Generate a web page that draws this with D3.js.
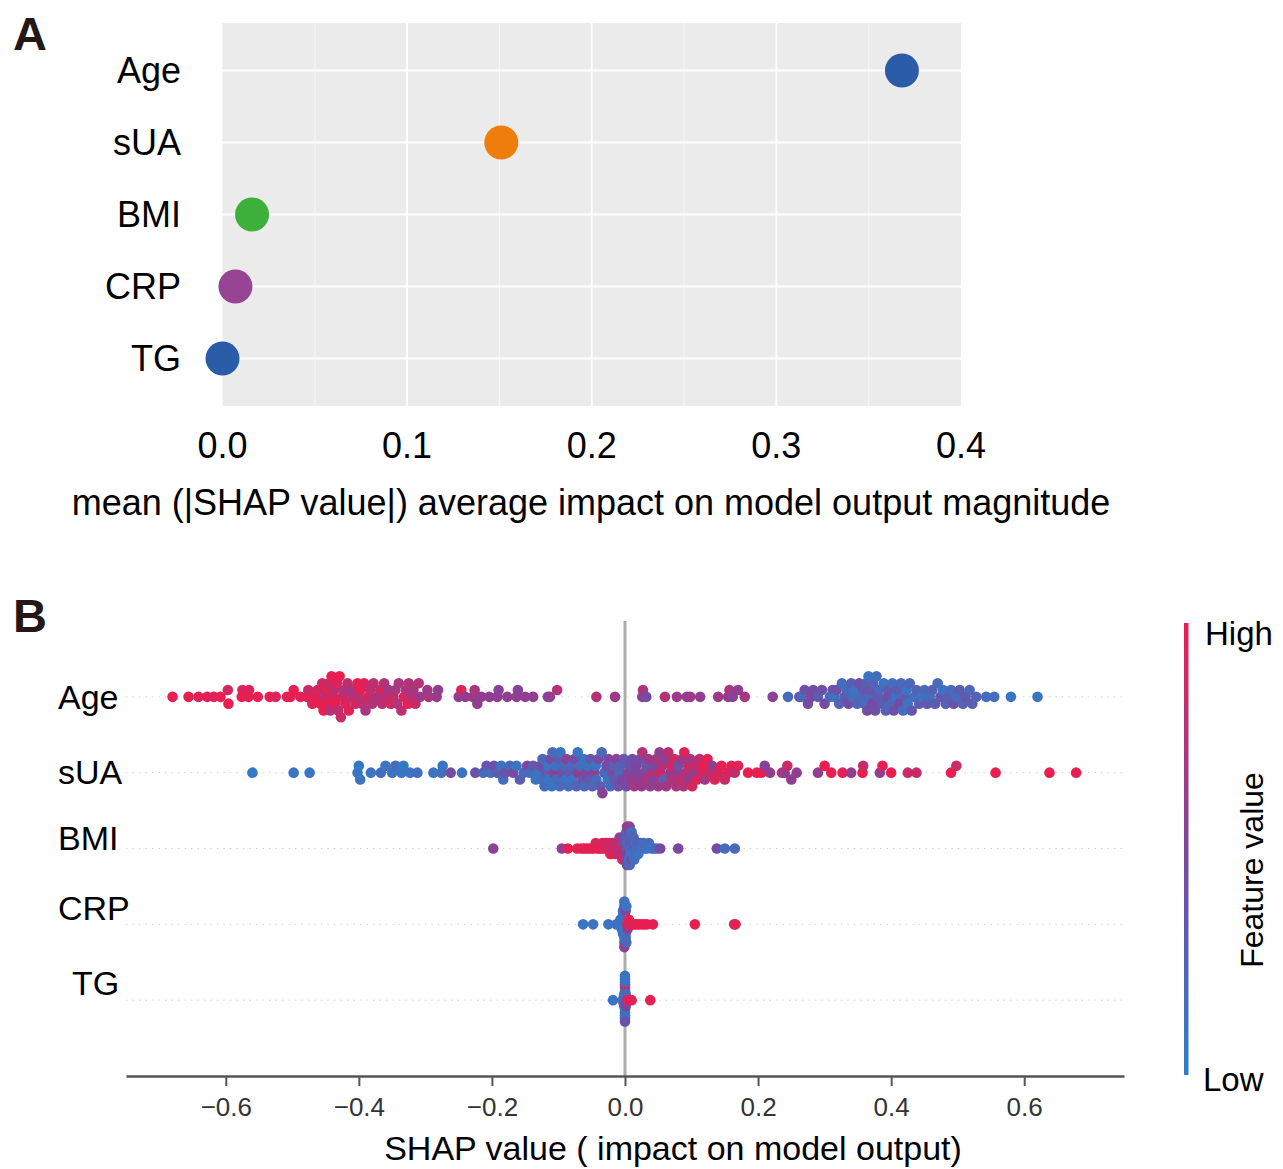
<!DOCTYPE html>
<html>
<head>
<meta charset="utf-8">
<script src="https://cdn.jsdelivr.net/npm/d3@7"></script>
<style>
  body { margin: 0; background: #fff; }
  svg text { font-family: "Liberation Sans", Arial, Helvetica, sans-serif; }
</style>
</head>
<body>
<div id="figure"></div>
<script>
// features, top to bottom (same order in both panels)
const features = ["Age", "sUA", "BMI", "CRP", "TG"];

// panel A: mean(|SHAP value|) per feature
const meanAbsShap = [0.368, 0.151, 0.016, 0.007, 0.000];
const meanColors = ["#2b5ca8", "#ee7d0b", "#3cb03b", "#984494", "#2b5ca8"];
const importanceTicks = [0, 0.1, 0.2, 0.3, 0.4];

// panel B: ticks of the SHAP axis
const summaryTicks = [-0.6, -0.4, -0.2, 0, 0.2, 0.4, 0.6];

// panel B: one entry per sample -> [shap value, feature value scaled 0 (low) .. 1 (high)]
const ageDots = [
  [-0.680,1],[-0.656,1],[-0.641,.95],[-0.628,1],[-0.618,.95],[-0.608,1],[-0.597,.9],[-0.596,1],
  [-0.576,1],[-0.575,.95],[-0.566,1],[-0.565,.95],[-0.552,1],[-0.534,1],[-0.525,.95],[-0.508,.95],
  [-0.503,1],[-0.498,1],[-0.488,.95],[-0.478,1],[-0.476,.85],[-0.470,.95],[-0.465,1],[-0.462,.9],
  [-0.458,1],[-0.455,.9],[-0.453,1],[-0.451,.8],[-0.449,.95],[-0.447,1],[-0.445,.85],[-0.443,.75],
  [-0.441,1],[-0.439,.9],[-0.437,.8],[-0.435,1],[-0.433,.95],[-0.431,.8],[-0.429,1],[-0.427,.85],
  [-0.425,.9],[-0.423,.75],[-0.420,.95],[-0.417,.8],[-0.415,.95],[-0.413,.8],[-0.409,.7],[-0.405,.9],
  [-0.402,1],[-0.400,.75],[-0.398,1],[-0.395,.8],[-0.392,.95],[-0.390,.7],[-0.386,.9],[-0.383,.8],
  [-0.380,.75],[-0.378,.8],[-0.372,.7],[-0.368,.9],[-0.365,.8],[-0.362,.75],[-0.358,.8],[-0.355,.7],
  [-0.352,.9],[-0.348,.85],[-0.345,.7],[-0.342,.75],[-0.340,.7],[-0.336,.8],[-0.332,.9],[-0.329,.75],
  [-0.326,1],[-0.325,.75],[-0.322,.8],[-0.318,.7],[-0.315,.85],[-0.310,.75],[-0.308,.65],
  [-0.297,.65],[-0.295,.7],[-0.283,.65],[-0.281,.6],[-0.250,.6],[-0.246,.95],[-0.240,.6],[-0.229,.65],
  [-0.226,.7],[-0.222,.6],[-0.216,.6],[-0.204,.6],[-0.192,.6],[-0.190,.55],[-0.177,.6],[-0.163,.6],
  [-0.161,.55],[-0.150,.6],[-0.138,.6],[-0.116,.55],[-0.113,.6],[-0.102,.75],[-0.043,.75],[-0.015,.65],
  [0.026,.55],[0.027,.75],[0.032,.45],[0.060,.75],[0.078,.65],[0.093,.6],[0.098,.65],[0.113,.6],
  [0.140,.65],[0.155,.65],[0.157,.7],[0.162,.55],[0.170,.6],[0.180,.7],[0.222,.55],[0.245,.15],
  [0.262,.45],[0.265,.2],[0.270,.4],[0.275,.45],[0.280,.5],[0.283,.45],[0.290,.3],[0.296,.4],
  [0.300,.45],[0.308,.2],[0.312,.35],[0.315,.1],[0.318,.4],[0.322,.25],[0.326,.15],[0.330,.3],
  [0.333,.2],[0.336,.45],[0.340,.3],[0.342,.15],[0.345,.1],[0.349,.25],[0.352,.4],[0.356,.2],
  [0.358,.35],[0.360,.15],[0.362,.3],[0.364,.45],[0.366,.1],[0.368,.2],[0.370,.35],[0.372,.5],
  [0.373,.25],[0.376,.4],[0.378,.15],[0.380,.3],[0.382,.2],[0.386,.3],[0.389,.1],[0.392,.25],
  [0.394,.4],[0.396,.35],[0.400,.2],[0.402,.15],[0.404,.4],[0.407,.1],[0.410,.3],[0.412,.45],
  [0.415,.2],[0.418,.15],[0.421,.3],[0.423,.1],[0.425,.1],[0.428,.2],[0.431,.35],[0.435,.15],
  [0.438,.25],[0.442,.3],[0.446,.1],[0.450,.2],[0.454,.35],[0.458,.15],[0.462,.25],[0.466,.3],
  [0.470,.2],[0.474,.35],[0.478,.1],[0.482,.25],[0.486,.3],[0.490,.2],[0.494,.4],[0.498,.15],
  [0.503,.3],[0.508,.25],[0.512,.35],[0.518,.2],[0.522,.3],[0.528,.25],[0.543,.15],[0.555,.15],
  [0.580,.1],[0.620,.1]
];

const suaDots = [
  [-0.560,.05],[-0.498,.1],[-0.474,.1],[-0.402,.1],[-0.400,.05],[-0.398,.1],[-0.382,.1],[-0.367,.15],
  [-0.360,.1],[-0.350,.1],[-0.345,.15],[-0.336,.1],[-0.333,.05],[-0.323,.1],[-0.312,.15],[-0.288,.1],
  [-0.276,.15],[-0.274,.1],[-0.262,.45],[-0.245,.1],[-0.225,.4],[-0.213,.2],[-0.208,.35],[-0.202,.15],
  [-0.197,.4],[-0.192,.3],[-0.186,.1],[-0.183,.15],[-0.180,.4],[-0.173,.2],[-0.168,.45],[-0.163,.1],
  [-0.158,.3],[-0.152,.2],[-0.147,.5],[-0.143,.15],[-0.138,.35],[-0.134,.1],[-0.130,.1],[-0.127,.4],
  [-0.125,.15],[-0.124,.2],[-0.121,.15],[-0.118,.35],[-0.116,.1],[-0.115,.1],[-0.112,.45],[-0.110,.1],
  [-0.109,.2],[-0.106,.6],[-0.104,.1],[-0.103,.15],[-0.100,.3],[-0.098,.2],[-0.097,.1],[-0.094,.4],
  [-0.091,.2],[-0.089,.1],[-0.088,.55],[-0.085,.15],[-0.082,.35],[-0.080,.2],[-0.079,.1],[-0.076,.45],
  [-0.073,.25],[-0.071,.1],[-0.070,.6],[-0.067,.15],[-0.064,.4],[-0.062,.1],[-0.061,.2],[-0.058,.5],
  [-0.055,.1],[-0.053,.3],[-0.052,.35],[-0.049,.25],[-0.046,.6],[-0.044,.1],[-0.043,.15],[-0.040,.45],
  [-0.037,.3],[-0.035,.2],[-0.034,.55],[-0.031,.2],[-0.028,.4],[-0.026,.1],[-0.025,.5],[-0.022,.15],
  [-0.019,.45],[-0.017,.3],[-0.016,.35],[-0.013,.55],[-0.010,.4],[-0.008,.2],[-0.007,.25],[-0.004,.5],
  [-0.002,.35],[0.002,.45],[0.005,.55],[0.007,.4],[0.008,.6],[0.011,.4],[0.014,.7],[0.016,.5],
  [0.017,.5],[0.020,.6],[0.023,.45],[0.025,.65],[0.026,.75],[0.029,.55],[0.032,.35],[0.034,.7],
  [0.035,.65],[0.038,.6],[0.041,.8],[0.043,.5],[0.044,.55],[0.047,.7],[0.050,.65],[0.052,.6],
  [0.053,.85],[0.056,.75],[0.059,.3],[0.061,.55],[0.062,.7],[0.065,.8],[0.068,.6],[0.070,.9],
  [0.071,.75],[0.074,.9],[0.077,.7],[0.079,.6],[0.080,.4],[0.083,.8],[0.086,.65],[0.088,.75],
  [0.089,.95],[0.092,.75],[0.095,.85],[0.097,.6],[0.098,.7],[0.101,.9],[0.104,.6],[0.106,.8],
  [0.108,.95],[0.112,.8],[0.116,.9],[0.118,1],[0.120,.7],[0.124,1],[0.128,.85],[0.131,.6],
  [0.135,.95],[0.140,.9],[0.145,1],[0.150,.85],[0.155,.95],[0.160,1],[0.165,.8],[0.170,.95],
  [0.185,1],[0.198,1],[0.205,1],[0.210,.55],[0.218,.6],[0.236,.8],[0.240,.6],[0.244,.85],
  [0.250,.6],[0.258,.6],[0.290,.6],[0.300,1],[0.310,1],[0.327,1],[0.340,.6],[0.357,1],
  [0.358,.85],[0.383,.6],[0.387,1],[0.400,1],[0.425,.85],[0.438,.85],[0.490,1],[0.498,.85],
  [0.557,1],[0.638,1],[0.678,1]
];

const bmiDots = [
  [-0.198,.55],[-0.095,.55],[-0.086,1],[-0.072,1],[-0.066,.95],[-0.062,1],[-0.058,1],[-0.054,.95],
  [-0.050,1],[-0.047,1],[-0.044,.9],[-0.041,1],[-0.039,.95],[-0.036,1],[-0.034,.9],[-0.032,1],
  [-0.030,.95],[-0.028,.85],[-0.026,1],[-0.025,.9],[-0.023,.8],[-0.022,1],[-0.020,.85],[-0.019,.95],
  [-0.017,.75],[-0.016,.9],[-0.015,1],[-0.013,.8],[-0.012,.7],[-0.011,.9],[-0.010,.85],[-0.009,.75],
  [-0.008,.6],[-0.007,.9],[-0.006,.8],[-0.005,.7],[-0.004,.55],[-0.004,.85],[-0.003,.75],[-0.002,.6],
  [-0.002,.9],[-0.001,.5],[0.000,.7],[0.000,.4],[0.001,.6],[0.001,.3],[0.002,.55],[0.002,.2],
  [0.003,.45],[0.003,.65],[0.004,.3],[0.004,.15],[0.005,.5],[0.005,.25],[0.006,.1],[0.006,.4],
  [0.007,.2],[0.007,.55],[0.008,.15],[0.008,.35],[0.009,.1],[0.009,.25],[0.010,.45],[0.010,.15],
  [0.011,.2],[0.011,.35],[0.012,.1],[0.013,.25],[0.014,.15],[0.015,.3],[0.016,.1],[0.017,.2],
  [0.018,.15],[0.019,.25],[0.020,.1],[0.022,.15],[0.024,.2],[0.026,.1],[0.028,.15],[0.030,.2],
  [0.033,.1],[0.036,.15],[0.040,.1],[0.044,.15],[0.048,.2],[0.053,.45],[0.080,.5],[0.138,.45],
  [0.150,.15],[0.165,.2]
];

const crpDots = [
  [-0.063,.1],[-0.048,.1],[-0.025,.1],[-0.013,.15],[-0.009,.1],[-0.007,.15],[-0.006,.1],[-0.005,.2],
  [-0.005,.1],[-0.004,.1],[-0.004,.15],[-0.003,.1],[-0.003,.05],[-0.003,.2],[-0.003,.1],[-0.002,.1],
  [-0.002,.15],[-0.002,.05],[-0.002,.1],[-0.002,.25],[-0.002,.1],[-0.001,.1],[-0.001,.2],[-0.001,.1],
  [-0.001,.15],[-0.001,.6],[0.000,.1],[0.000,.15],[0.000,.05],[0.000,.1],[0.001,.1],[0.001,.55],
  [0.001,.15],[0.002,.1],[0.002,.2],[0.003,.85],[0.003,.15],[0.004,.6],[0.005,.9],[0.006,1],
  [0.008,.9],[0.010,1],[0.012,.95],[0.015,1],[0.018,.9],[0.021,1],[0.025,1],[0.029,.95],
  [0.033,1],[0.042,1],[0.105,1],[0.164,.7],[0.166,1]
];

const tgDots = [
  [-0.018,.1],[-0.003,.1],[-0.002,.15],[-0.002,.1],[-0.002,.5],[-0.001,.1],[-0.001,.2],[-0.001,.05],
  [-0.001,.1],[-0.001,.15],[0.000,.1],[0.000,.15],[0.000,.45],[0.000,.1],[0.000,.05],[0.000,.2],
  [0.000,.1],[0.000,.15],[0.000,.1],[0.000,.9],[0.000,.1],[0.000,.2],[0.000,.1],[0.000,.05],
  [0.000,.4],[0.000,.1],[0.001,.1],[0.001,.15],[0.001,.1],[0.001,.2],[0.001,.5],[0.002,.1],
  [0.002,.15],[0.003,.9],[0.010,1],[0.038,1]
];

const summaryDots = [ageDots, suaDots, bmiDots, crpDots, tgDots];


/** Draws the two SHAP panels (A: importance dots, B: beeswarm summary). */
class ShapFigure {

    constructor(){
        this.width = 1283;
        this.height = 1169;
        this.svg = d3.select("#figure").append("svg")
            .attr("width", this.width)
            .attr("height", this.height);
        // red/blue feature value scale like the shap package
        this.colorScale = d3.scaleLinear()
            .domain([0, 0.5, 1])
            .range(["#2b7fca", "#7d46a0", "#e81f50"]);
    }

    panelLetter(txt, x, y){
        this.svg.append("text")
            .attr("x", x).attr("y", y)
            .style("font-size", "47px")
            .style("font-weight", "bold")
            .style("fill", "#231815")
            .text(txt);
    }

    drawImportance(){
        let g = this.svg.append("g").attr("id", "importance");
        let x = d3.scaleLinear().domain([0, 0.4]).range([222.5, 961]);
        let y = d3.scalePoint().domain(features).range([70.5, 358.5]);
        let top = 23, bottom = 406;

        g.append("rect")
            .attr("x", x(0)).attr("y", top)
            .attr("width", x(0.4) - x(0))
            .attr("height", bottom - top)
            .style("fill", "#ebebeb");

        // minor grid
        let minor = [0.05, 0.15, 0.25, 0.35];
        g.selectAll(".minor").data(minor).enter().append("line")
            .attr("x1", d => x(d)).attr("x2", d => x(d))
            .attr("y1", top).attr("y2", bottom)
            .style("stroke", "#f7f7f7")
            .style("stroke-width", 1);
        // major grid
        g.selectAll(".majorx").data(importanceTicks.slice(1, -1)).enter().append("line")
            .attr("x1", d => x(d)).attr("x2", d => x(d))
            .attr("y1", top).attr("y2", bottom)
            .style("stroke", "#fff")
            .style("stroke-width", 1.8);
        g.selectAll(".majory").data(features).enter().append("line")
            .attr("x1", x(0)).attr("x2", x(0.4))
            .attr("y1", d => y(d)).attr("y2", d => y(d))
            .style("stroke", "#fff")
            .style("stroke-width", 1.8);

        g.selectAll("circle").data(features).enter().append("circle")
            .attr("cx", (d, i) => x(meanAbsShap[i]))
            .attr("cy", d => y(d))
            .attr("r", 17)
            .style("fill", (d, i) => meanColors[i]);

        g.selectAll(".ylab").data(features).enter().append("text")
            .attr("x", 181)
            .attr("y", d => y(d))
            .attr("dy", "0.36em")
            .style("text-anchor", "end")
            .style("font-size", "36px")
            .style("fill", "#000")
            .text(d => d);

        g.selectAll(".xlab").data(importanceTicks).enter().append("text")
            .attr("x", d => x(d))
            .attr("y", 458)
            .style("text-anchor", "middle")
            .style("font-size", "36px")
            .style("fill", "#000")
            .text(d => d3.format(".1f")(d));

        g.append("text")
            .attr("x", 591).attr("y", 515)
            .style("text-anchor", "middle")
            .style("font-size", "36px")
            .style("fill", "#000")
            .text("mean (|SHAP value|) average impact on model output magnitude");
    }

    // shap's beeswarm stacking: bin the values, then pile them alternately up/down
    swarm(dots, rowHeight){
        let xs = dots.map(d => d[0]);
        let lo = d3.min(xs), hi = d3.max(xs);
        let nbins = 100;
        let quant = xs.map(v => Math.round(nbins * (v - lo) / (hi - lo + 1e-8)));
        let inds = d3.range(dots.length).sort((a, b) => quant[a] - quant[b] || a - b);
        let ys = new Array(dots.length).fill(0);
        let layer = 0, lastBin = -1;
        inds.forEach(i => {
            if (quant[i] !== lastBin) layer = 0;
            ys[i] = Math.ceil(layer / 2) * ((layer % 2) * 2 - 1);
            layer += 1;
            lastBin = quant[i];
        });
        let m = d3.max(ys, v => v + 1);
        return ys.map(v => v * 0.9 * (rowHeight / m));
    }

    drawSummary(){
        let g = this.svg.append("g").attr("id", "summary");
        let x = d3.scaleLinear().domain([-0.75, 0.75]).range([126, 1124]);
        // rows as in matplotlib: TG at 0 ... Age at 4, ylim (-1, 5)
        let y = d3.scaleLinear().domain([-1, 5]).range([1076, 621]);
        let n = features.length;
        let rowOf = i => n - 1 - i;

        g.append("line")
            .attr("x1", x(0)).attr("x2", x(0))
            .attr("y1", y(5)).attr("y2", y(-1))
            .style("stroke", "#acacac")
            .style("stroke-width", 3);

        g.selectAll(".rowline").data(features).enter().append("line")
            .attr("x1", x(-0.75)).attr("x2", x(0.75))
            .attr("y1", (d, i) => y(rowOf(i))).attr("y2", (d, i) => y(rowOf(i)))
            .style("stroke", "#cccccc")
            .style("stroke-width", 1)
            .style("stroke-dasharray", "1.3,5.2");

        summaryDots.forEach((dots, i) => {
            let offs = this.swarm(dots, 0.4);
            g.append("g").selectAll("circle").data(dots).enter().append("circle")
                .attr("cx", d => x(d[0]))
                .attr("cy", (d, j) => y(rowOf(i) + offs[j]))
                .attr("r", 5.3)
                .style("fill", d => this.colorScale(d[1]));
        });

        // feature names sit a little above their rows, as in the figure
        let nudge = [[0, 0], [0, -1], [0, -11], [0, -17], [14, -17]];
        g.selectAll(".ylab").data(features).enter().append("text")
            .attr("x", (d, i) => 58 + nudge[i][0])
            .attr("y", (d, i) => y(rowOf(i)) + nudge[i][1])
            .attr("dy", "0.36em")
            .style("font-size", "34px")
            .style("fill", "#000")
            .text(d => d);

        let xAxis = d3.axisBottom(x)
            .tickValues(summaryTicks)
            .tickFormat(d3.format(".1f"))
            .tickSize(10)
            .tickSizeOuter(0)
            .tickPadding(12);
        let ax = g.append("g")
            .attr("transform", "translate(0," + y(-1) + ")")
            .call(xAxis);
        ax.select(".domain").style("stroke", "#555").style("stroke-width", 2.5);
        ax.selectAll(".tick line").style("stroke", "#555").style("stroke-width", 2);
        ax.selectAll(".tick text")
            .style("font-size", "26px")
            .style("font-family", "'Liberation Sans', Arial, sans-serif")
            .style("fill", "#333");

        g.append("text")
            .attr("x", 673).attr("y", 1160)
            .style("text-anchor", "middle")
            .style("font-size", "34px")
            .style("fill", "#000")
            .text("SHAP value ( impact on model output)");

        // colour bar
        let grad = this.svg.append("defs").append("linearGradient")
            .attr("id", "fvGrad")
            .attr("x1", 0).attr("y1", 1).attr("x2", 0).attr("y2", 0);
        grad.selectAll("stop").data([0, 0.25, 0.5, 0.75, 1]).enter().append("stop")
            .attr("offset", d => d)
            .attr("stop-color", d => this.colorScale(d));
        g.append("rect")
            .attr("x", 1184).attr("y", 623)
            .attr("width", 4.5).attr("height", 452)
            .style("fill", "url(#fvGrad)");
        g.append("text")
            .attr("x", 1205).attr("y", 645)
            .style("font-size", "33px")
            .text("High");
        g.append("text")
            .attr("x", 1203).attr("y", 1091)
            .style("font-size", "33px")
            .text("Low");
        g.append("text")
            .attr("transform", "translate(1263,870) rotate(-90)")
            .style("text-anchor", "middle")
            .style("font-size", "32px")
            .text("Feature value");
    }
}

let fig = new ShapFigure();
fig.drawImportance();
fig.drawSummary();
fig.panelLetter("A", 13, 50);
fig.panelLetter("B", 13, 632);
</script>
</body>
</html>
